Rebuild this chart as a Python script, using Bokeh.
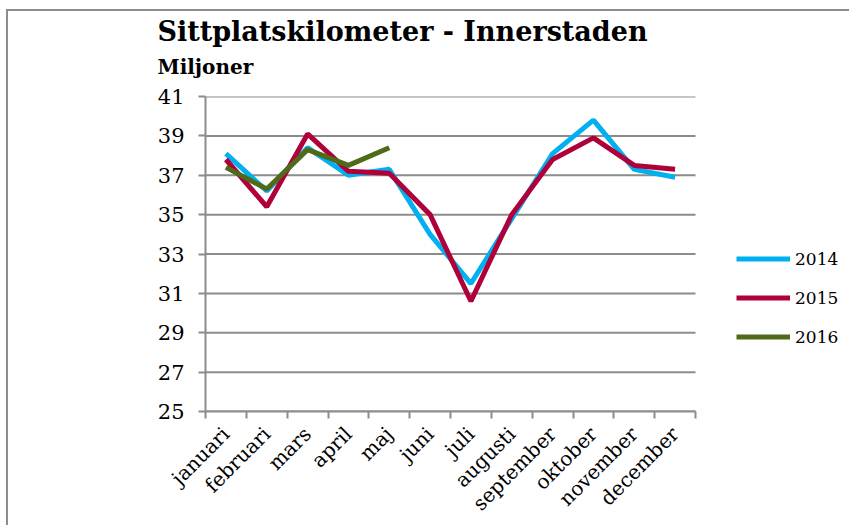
from math import pi
from bokeh.plotting import figure
from bokeh.models import FixedTicker, Legend, LegendItem, Title, Range1d
from bokeh.embed import file_html
from bokeh.resources import INLINE

months = ["januari", "februari", "mars", "april", "maj", "juni", "juli",
          "augusti", "september", "oktober", "november", "december"]
y2014 = [38.1, 36.2, 38.4, 37.0, 37.3, 34.0, 31.5, 34.8, 38.1, 39.8, 37.3, 36.9]
y2015 = [37.8, 35.4, 39.1, 37.2, 37.1, 35.0, 30.6, 35.0, 37.8, 38.9, 37.5, 37.3]
y2016 = [37.4, 36.3, 38.3, 37.5, 38.4]
years = ["2014", "2015", "2016"]
colors = ["#00B0F0", "#B0003A", "#4F6B1A"]
y_ticks = list(range(25, 42, 2))

GRAY = "#8c8c8c"
SERIF = "DejaVu Serif"

W, H = 843, 516
LEFT, PLOT_W = 197, 490
n = len(months)
xs = [i + 0.5 for i in range(n)]
bounds = list(range(n + 1))
x_end = n * (W - LEFT) / PLOT_W

p = figure(width=W, height=H, output_backend="svg", toolbar_location=None,
           title=None, x_range=Range1d(0, x_end), y_range=Range1d(25, 41),
           min_border_left=LEFT, min_border_right=0, min_border_top=85,
           min_border_bottom=116)
p.styles = {"border-top": "2px solid #8c8c8c", "border-left": "2px solid #8c8c8c",
            "margin-left": "6px", "margin-top": "9px"}
p.outline_line_color = None
p.background_fill_color = "white"
p.border_fill_color = "white"
p.xgrid.visible = False
p.ygrid.visible = False

# horizontal gridlines limited to the category span
p.segment(x0=[0] * len(y_ticks), x1=[n] * len(y_ticks), y0=y_ticks, y1=y_ticks,
          line_color=GRAY, line_width=2)

# y axis
p.yaxis.ticker = FixedTicker(ticks=y_ticks)
p.yaxis.axis_line_color = GRAY
p.yaxis.axis_line_width = 2
p.yaxis.major_tick_line_color = GRAY
p.yaxis.major_tick_line_width = 2
p.yaxis.major_tick_out = 7
p.yaxis.major_tick_in = 0
p.yaxis.minor_tick_line_color = None
p.yaxis.major_label_text_font = SERIF
p.yaxis.major_label_text_font_size = "21px"
p.yaxis.major_label_text_color = "black"
p.yaxis.major_label_standoff = 14

# x axis
p.xaxis.bounds = (0, n)
p.xaxis.ticker = FixedTicker(ticks=xs, minor_ticks=bounds)
p.xaxis.major_label_overrides = {x: m for x, m in zip(xs, months)}
p.xaxis.axis_line_color = GRAY
p.xaxis.axis_line_width = 2
p.xaxis.major_tick_line_color = None
p.xaxis.major_tick_out = 0
p.xaxis.major_tick_in = 0
p.xaxis.minor_tick_line_color = GRAY
p.xaxis.minor_tick_line_width = 2
p.xaxis.minor_tick_out = 7
p.xaxis.minor_tick_in = 0
p.xaxis.major_label_orientation = pi / 4
p.xaxis.major_label_text_font = SERIF
p.xaxis.major_label_text_font_size = "20px"
p.xaxis.major_label_text_color = "black"
p.xaxis.major_label_standoff = 12

series = [y2014, y2015, y2016]
items = []
for name, col, ys in zip(years, colors, series):
    r = p.line(xs[:len(ys)], ys, line_width=5, line_color=col)
    items.append(LegendItem(label=name, renderers=[r]))

legend = Legend(items=items, location=(531, 64), orientation="vertical",
                glyph_width=54, glyph_height=21, label_height=21, spacing=18,
                label_standoff=5, padding=0, margin=0,
                border_line_color=None, background_fill_alpha=0,
                label_text_font=SERIF, label_text_font_size="17px",
                label_text_color="black")
p.add_layout(legend, "center")

p.add_layout(Title(text="Miljoner", align="left", offset=-48, standoff=36,
                   text_font=SERIF, text_font_style="bold",
                   text_font_size="20px", text_color="black"), "above")
p.add_layout(Title(text="Sittplatskilometer - Innerstaden", align="left", offset=-48,
                   standoff=-25, text_font=SERIF, text_font_style="bold",
                   text_font_size="27px", text_color="black"), "above")

open("out.html", "w").write(file_html(p, INLINE))
